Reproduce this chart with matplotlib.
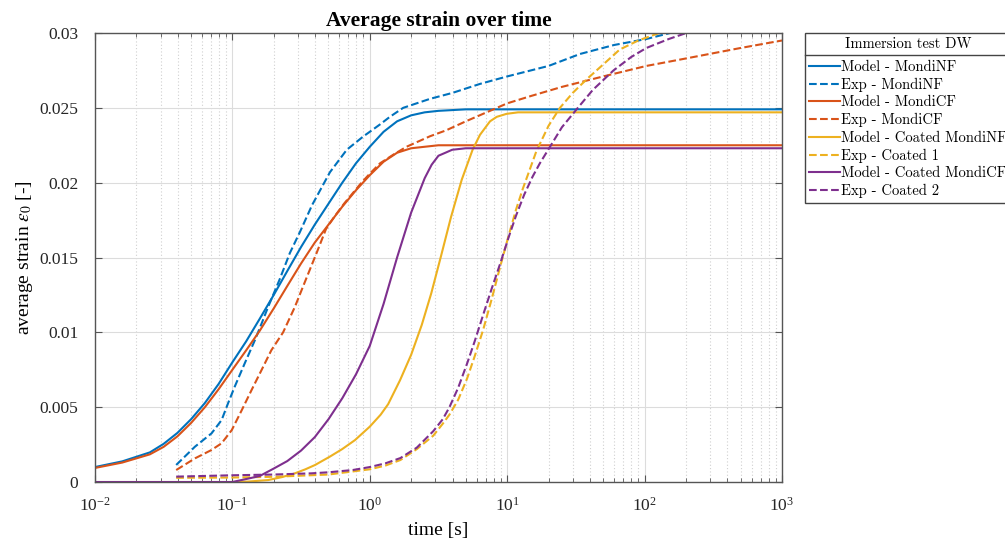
import matplotlib
matplotlib.use('Agg')
from matplotlib import pyplot as plt
from matplotlib.lines import Line2D
from matplotlib.ticker import LogLocator, LogFormatterSciNotation, NullFormatter
import matplotlib.transforms as mtransforms

# curves (time in s, strain in -)
t_model_nf = [0.01, 0.0158, 0.0251, 0.0316, 0.0398, 0.0501, 0.0631, 0.0794, 0.1, 0.126, 0.158, 0.2, 0.251,
              0.316, 0.398, 0.501, 0.631, 0.794, 1.0, 1.26, 1.58, 2.0, 2.51, 3.16, 5.0, 10, 100, 1000]
e_model_nf = [0.00100, 0.00138, 0.00198, 0.00255, 0.00328, 0.00420, 0.00528, 0.00655, 0.0080, 0.0094, 0.0109,
              0.0125, 0.0141, 0.0157, 0.0172, 0.0186, 0.0200, 0.0213, 0.0224, 0.0234, 0.0241, 0.0245, 0.0247,
              0.0248, 0.0249, 0.0249, 0.0249, 0.0249]

t_exp_nf = [0.039, 0.0534, 0.0705, 0.0835, 0.093, 0.104, 0.123, 0.146, 0.165, 0.182, 0.22, 0.262, 0.31, 0.38,
            0.46, 0.513, 0.68, 0.9, 1.0, 1.19, 1.4, 1.75, 2.74, 4.0, 6.34, 10, 20, 33.9, 60, 103, 153, 200]
e_exp_nf = [0.00114, 0.00236, 0.00325, 0.00414, 0.00526, 0.00637, 0.00793, 0.00949, 0.0107, 0.0117, 0.0135,
            0.0153, 0.0167, 0.0185, 0.0199, 0.0207, 0.0222, 0.0231, 0.0234, 0.0239, 0.0244, 0.0250, 0.0256,
            0.0260, 0.0266, 0.0271, 0.0278, 0.0286, 0.0292, 0.0296, 0.0300, 0.0303]

t_model_cf = [0.01, 0.0158, 0.0251, 0.0316, 0.0398, 0.0501, 0.0631, 0.0794, 0.1, 0.126, 0.158, 0.2, 0.251,
              0.316, 0.398, 0.501, 0.631, 0.794, 1.0, 1.26, 1.58, 2.0, 2.51, 3.16, 5.0, 10, 100, 1000]
e_model_cf = [0.00094, 0.00130, 0.00185, 0.00235, 0.00305, 0.00395, 0.00500, 0.00620, 0.00750, 0.00880, 0.0101,
              0.0116, 0.0131, 0.0146, 0.0160, 0.0172, 0.0184, 0.0195, 0.0205, 0.0214, 0.0220, 0.0223, 0.0224,
              0.0225, 0.0225, 0.0225, 0.0225, 0.0225]

t_exp_cf = [0.039, 0.0534, 0.0705, 0.0835, 0.099, 0.117, 0.138, 0.163, 0.192, 0.234, 0.285, 0.345, 0.41, 0.48,
            0.55, 0.65, 0.87, 1.0, 1.19, 1.5, 1.85, 2.74, 3.6, 5.0, 7.5, 10, 15, 25, 50, 103, 200, 500, 1000]
e_exp_cf = [0.0008, 0.00158, 0.00214, 0.00259, 0.00347, 0.0048, 0.00615, 0.00748, 0.0088, 0.0100, 0.0117,
            0.0136, 0.0153, 0.0169, 0.0177, 0.0186, 0.0200, 0.0206, 0.0213, 0.0219, 0.0224, 0.0231, 0.0235,
            0.0241, 0.0248, 0.0253, 0.0258, 0.0264, 0.0271, 0.0278, 0.0283, 0.0290, 0.0295]

t_model_c1 = [0.01, 0.1, 0.13, 0.182, 0.23, 0.285, 0.34, 0.4, 0.513, 0.63, 0.78, 1.0, 1.2, 1.36, 1.66, 2.0,
              2.39, 2.8, 3.3, 3.9, 4.67, 5.6, 6.34, 7.5, 8.4, 9.9, 12, 100, 1000]
e_model_c1 = [0.0, 0.0, 0.00003, 0.00013, 0.00033, 0.00058, 0.00085, 0.00114, 0.0017, 0.0022, 0.0028, 0.0037,
              0.0045, 0.0052, 0.0068, 0.0085, 0.0105, 0.0126, 0.0151, 0.0177, 0.0202, 0.0222, 0.0232, 0.0241,
              0.0244, 0.0246, 0.0247, 0.0247, 0.0247]

t_exp_c1 = [0.039, 0.1, 0.2, 0.5, 1.0, 1.3, 1.67, 2.2, 2.9, 3.4, 3.8, 4.4, 5.1, 5.8, 6.7, 7.7, 8.9, 10.2, 11.6,
            13.0, 14.5, 16.3, 20, 24.2, 30, 37.8, 50, 66, 90, 128, 200]
e_exp_c1 = [0.00028, 0.0003, 0.00035, 0.0005, 0.00085, 0.0011, 0.00147, 0.0022, 0.0031, 0.0039, 0.0045, 0.0055,
            0.0069, 0.0084, 0.0102, 0.0122, 0.0144, 0.0164, 0.0182, 0.0196, 0.0208, 0.0221, 0.0238, 0.0250,
            0.0260, 0.0269, 0.0279, 0.0289, 0.0295, 0.0300, 0.0306]

t_model_c2 = [0.01, 0.1, 0.126, 0.158, 0.2, 0.251, 0.316, 0.398, 0.501, 0.631, 0.794, 1.0, 1.26, 1.58, 2.0,
              2.51, 2.82, 3.16, 3.55, 3.98, 5.0, 100, 1000]
e_model_c2 = [0.0, 0.0, 0.0002, 0.0004, 0.0009, 0.0014, 0.0021, 0.0030, 0.0042, 0.0056, 0.0072, 0.0091, 0.0119,
              0.0150, 0.0180, 0.0203, 0.0212, 0.0218, 0.0220, 0.0222, 0.0223, 0.0223, 0.0223]

t_exp_c2 = [0.039, 0.099, 0.2, 0.376, 0.5, 0.75, 1.0, 1.3, 1.67, 2.2, 2.9, 3.4, 3.8, 4.4, 5.1, 5.8, 6.7, 7.7,
            8.9, 10.2, 11.6, 13.3, 15.3, 17.3, 20.5, 25, 32, 42, 59.4, 80, 103, 150, 201, 260]
e_exp_c2 = [0.00036, 0.00045, 0.0005, 0.00058, 0.00065, 0.0008, 0.0010, 0.00125, 0.0016, 0.0023, 0.0034, 0.0042,
            0.0050, 0.0063, 0.0079, 0.0094, 0.0112, 0.0129, 0.0146, 0.0163, 0.0178, 0.0192, 0.0204, 0.0213,
            0.0224, 0.0237, 0.0249, 0.0262, 0.0275, 0.0284, 0.0290, 0.0296, 0.0300, 0.0303]

blue, orange, yellow, purple = '#0072BD', '#D95319', '#EDB120', '#7E2F8E'

plt.rcParams['font.family'] = ['Liberation Serif', 'DejaVu Serif']
plt.rcParams['mathtext.fontset'] = 'stix'

fig = plt.figure(figsize=(10.05, 5.43), dpi=100)
ax = fig.add_axes([0.0945, 0.1123, 0.6836, 0.8269])

lw = 1.5
ax.plot(t_model_nf, e_model_nf, '-', color=blue, lw=lw, label='Model - MondiNF')
ax.plot(t_exp_nf, e_exp_nf, '--', color=blue, lw=lw, label='Exp - MondiNF')
ax.plot(t_model_cf, e_model_cf, '-', color=orange, lw=lw, label='Model - MondiCF')
ax.plot(t_exp_cf, e_exp_cf, '--', color=orange, lw=lw, label='Exp - MondiCF')
ax.plot(t_model_c1, e_model_c1, '-', color=yellow, lw=lw, label='Model - Coated MondiNF')
ax.plot(t_exp_c1, e_exp_c1, '--', color=yellow, lw=lw, label='Exp - Coated 1')
ax.plot(t_model_c2, e_model_c2, '-', color=purple, lw=lw, label='Model - Coated MondiCF')
ax.plot(t_exp_c2, e_exp_c2, '--', color=purple, lw=lw, label='Exp - Coated 2')

ax.set_xscale('log')
ax.set_xlim(1e-2, 1e3)
ax.set_ylim(0, 0.03)
ax.set_yticks([0, 0.005, 0.01, 0.015, 0.02, 0.025, 0.03])
ax.set_yticklabels(['0', '0.005', '0.01', '0.015', '0.02', '0.025', '0.03'])
ax.xaxis.set_major_locator(LogLocator(base=10, numticks=10))
ax.xaxis.set_major_formatter(LogFormatterSciNotation())
ax.xaxis.set_minor_locator(LogLocator(base=10, subs=range(2, 10), numticks=20))
ax.xaxis.set_minor_formatter(NullFormatter())

ax.grid(True, which='major', color='#dcdcdc', lw=0.8, ls='-')
ax.grid(True, which='minor', axis='x', color='#d0d0d0', lw=0.8, ls=(0, (1, 2)))
ax.set_axisbelow(True)

for s in ax.spines.values():
    s.set_color('#555555')
    s.set_linewidth(1.0)
ax.tick_params(which='both', direction='in', top=True, right=True, colors='#262626',
               labelsize=12.5)
ax.tick_params(which='major', length=5, color='#555555')
ax.tick_params(which='minor', length=3, color='#555555')
ax.tick_params(axis='x', pad=11)
ax.tick_params(axis='y', pad=12)

ax.set_title('Average strain over time', fontsize=15.5, fontweight='bold', pad=5)
ax.set_xlabel('time [s]', fontsize=14, labelpad=5)
ax.set_ylabel(r'average strain $\epsilon_0$ [-]', fontsize=14, labelpad=3)

leg = ax.legend(title='Immersion test DW', loc='upper left', bbox_to_anchor=(1.0335, 1.0),
                borderaxespad=0, prop={'family': 'cmr10', 'size': 10.5},
                title_fontproperties={'family': 'cmr10', 'size': 10.5},
                fancybox=False, framealpha=1, edgecolor='#444444',
                handlelength=2.1, handletextpad=0.1, labelspacing=0.26, borderpad=0.3)
leg.get_frame().set_linewidth(1.0)
# a bit more room between the title and the entries
leg._legend_box.sep = 6.5

# separator line under the legend title
fig.canvas.draw()
r = fig.canvas.get_renderer()
fb = leg.get_frame().get_window_extent(r)
tb = leg.get_title().get_window_extent(r)
ysep = tb.y0 - 4
fig.add_artist(Line2D([fb.x0, fb.x1], [ysep, ysep], transform=mtransforms.IdentityTransform(),
                      color='#444444', lw=1.0))

plt.savefig('out.png', dpi=100)
